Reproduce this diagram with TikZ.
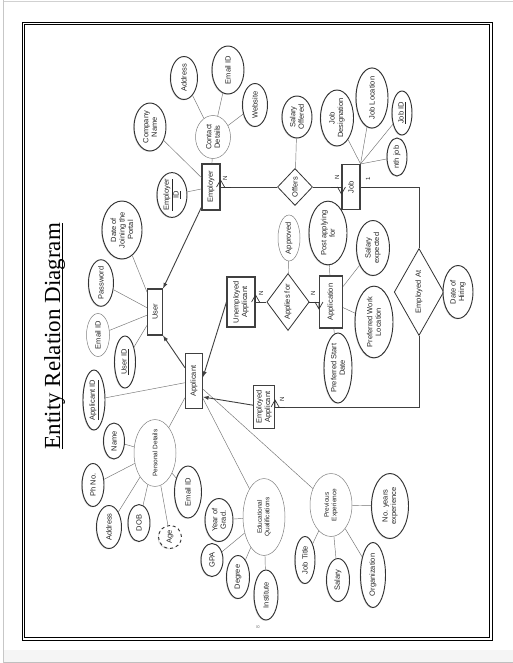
\documentclass[tikz,border=0pt]{standalone}
\usepackage{fontspec}
\setmainfont{Liberation Sans}
\newfontfamily\titlefont{Liberation Serif}
\usetikzlibrary{shapes.geometric,shadows,positioning}

\begin{document}
\begin{tikzpicture}
	[
		x=1pt, y=-1pt,
		every node/.style={rotate=90, align=center, inner sep=0pt, text=black!85, font=\fontsize{7.5}{8.5}\selectfont},
		attr/.style={ellipse, draw=black!80, line width=0.95pt, fill=white, drop shadow={shadow xshift=-0.8pt, shadow yshift=-0.8pt, opacity=0.3}},
		plainattr/.style={ellipse, draw=black!50, line width=0.5pt, fill=white},
		entity/.style={rectangle, draw=black!75, line width=1.1pt, fill=white, drop shadow={shadow xshift=-0.8pt, shadow yshift=-0.8pt, opacity=0.3}},
		relation/.style={diamond, draw=black!80, line width=0.8pt, fill=white},
		link/.style={draw=black!55, line width=0.45pt},
		conn/.style={draw=black!75, line width=0.9pt},
		isa/.style={conn, -latex},
		card/.style={font=\fontsize{6}{6}\selectfont},
		crow/.pic={\draw[black!80, line width=0.7pt] (0,-4) -- (-7,0) -- (0,4) (-7,0) -- (0,0);},
		bar/.pic={\draw[black!80, line width=0.7pt] (0,-4) -- (0,4);},
	]

	% page
	\useasboundingbox (0,0) rectangle (513,663);
	\fill[white] (0,0) rectangle (513,663);
	\fill[black!4] (3,650) rectangle (513,663);
	\draw[black!22] (3.5,0) -- (3.5,663);
	\draw[black!18] (3.5,1) -- (513,1);
	\draw[black!25] (3.5,662) -- (513,662);
	\draw[line width=0.9pt] (22,22) rectangle (492,640);
	\draw[line width=0.9pt] (24.8,24.8) rectangle (489.2,637.2);

	\node[anchor=base, font=\fontsize{23}{23}\selectfont\titlefont, text=black] (title) at (60,336) {Entity Relation Diagram};
	\draw[line width=0.9pt] ([xshift=2pt]title.base west) -- ([xshift=2pt]title.base east);
	\node[rotate=0, font=\fontsize{5}{5}\selectfont, text=black!50] (pageno) at (258,627) {8};

	% employer side
	\node[entity, minimum width=46, minimum height=18] (employer) at (211,187) {Employer};
	\node[attr, minimum width=48, minimum height=32] (company) at (150,127) {Company\\Name};
	\node[attr, minimum width=40, minimum height=30] (employerid) at (172,195) {\underline{Employer}\\\underline{ID}};
	\node[plainattr, minimum width=43, minimum height=35] (contact) at (213,137) {Contact\\Details};
	\node[attr, minimum width=43, minimum height=27] (contactaddr) at (184,78) {Address};
	\node[attr, minimum width=48, minimum height=32] (contactmail) at (228,70) {Email ID};
	\node[attr, minimum width=43, minimum height=25] (website) at (255,105) {Website};

	% job side
	\node[relation, minimum width=37, minimum height=35] (offers) at (295,187) {Offers};
	\node[attr, minimum width=42, minimum height=30] (saloffered) at (297,117) {Salary\\Offered};
	\node[entity, minimum width=45, minimum height=18] (job) at (351,187) {Job};
	\node[attr, minimum width=53, minimum height=33] (jobdesig) at (337,118) {Job\\Designation};
	\node[attr, minimum width=55, minimum height=32] (jobloc) at (372,98) {Job Location};
	\node[attr, minimum width=44, minimum height=20] (jobid) at (402,113) {\underline{Job ID}};
	\node[attr, minimum width=38, minimum height=20] (nthjob) at (397,157) {nth job};

	% user
	\node[entity, minimum width=46, minimum height=15] (user) at (155,312) {User};
	\node[attr, minimum width=58, minimum height=40] (joindate) at (122,230) {Date of\\Joining the\\Portal};
	\node[attr, minimum width=37, minimum height=25] (password) at (101,283) {Password};
	\node[plainattr, minimum width=43, minimum height=23] (usermail) at (98,335) {Email ID};
	\node[attr, minimum width=52, minimum height=21] (userid) at (125,362) {\underline{User ID}};

	% application
	\node[entity, minimum width=50, minimum height=28] (unemp) at (241,302) {Unemployed\\Applicant};
	\node[relation, minimum width=57, minimum height=33] (applies) at (288,302) {Applies for};
	\node[plainattr, minimum width=46, minimum height=22] (approved) at (289,238) {Approved};
	\node[entity, minimum width=52, minimum height=23] (application) at (331,302) {Application};
	\node[attr, minimum width=57, minimum height=38] (postfor) at (328,233) {Post applying\\for};
	\node[attr, minimum width=55, minimum height=33] (salexpected) at (373,248) {Salary\\expected};
	\node[attr, minimum width=65, minimum height=38] (preflocation) at (374,322) {Preferred Work\\Location};
	\node[attr, minimum width=70, minimum height=28] (prefstart) at (338,368) {Preferred Start\\Date};
	\node[relation, minimum width=87, minimum height=38] (employedat) at (419,292) {Employed At};
	\node[attr, minimum width=53, minimum height=30] (hiringdate) at (458,292) {Date of\\Hiring};
	\node[entity, minimum width=43, minimum height=21] (emp) at (264,407) {Employed\\Applicant};

	% applicant
	\node[entity, minimum width=55, minimum height=17] (applicant) at (194,381) {Applicant};
	\node[attr, minimum width=60, minimum height=22] (applicantid) at (94,400) {\underline{Applicant ID}};
	\node[plainattr, minimum width=63, minimum height=42, font=\fontsize{6.5}{7.5}\selectfont] (personal) at (155,453) {Personal Details};
	\node[attr, minimum width=36, minimum height=21] (name) at (114,441) {Name};
	\node[attr, minimum width=43, minimum height=22] (phno) at (93,485) {Ph No.};
	\node[attr, minimum width=52, minimum height=27] (personalmail) at (188,492) {Email ID};
	\node[attr, minimum width=43, minimum height=25] (personaladdr) at (109,527) {Address};
	\node[attr, minimum width=37, minimum height=22] (dob) at (139,523) {DOB};
	\node[attr, dashed, minimum width=23, minimum height=23] (age) at (170,537) {Age};
	\node[plainattr, minimum width=77, minimum height=42, font=\fontsize{6.5}{7.5}\selectfont] (education) at (264,517) {Educational\\Qualifications};
	\node[attr, minimum width=43, minimum height=28] (gradyear) at (219,520) {Year of\\Grad.};
	\node[attr, minimum width=33, minimum height=22] (gpa) at (212,560) {GPA};
	\node[attr, minimum width=43, minimum height=23] (degree) at (238,577) {Degree};
	\node[attr, minimum width=50, minimum height=24] (institute) at (266,595) {Institute};
	\node[plainattr, minimum width=63, minimum height=42, font=\fontsize{6.5}{7.5}\selectfont] (prevexp) at (331,505) {Previous\\Experience};
	\node[attr, minimum width=65, minimum height=37] (noyears) at (390,506) {No. years\\experience};
	\node[attr, minimum width=47, minimum height=20] (jobtitle) at (305,560) {Job Title};
	\node[attr, minimum width=43, minimum height=23] (salary) at (338,580) {Salary};
	\node[attr, minimum width=65, minimum height=25] (organization) at (373,575) {Organization};

	% attribute links
	\draw[link] (employer) -- (company);
	\draw[link] (employer) -- (employerid);
	\draw[link] (employer) -- (contact);
	\draw[link] (contact) -- (contactaddr);
	\draw[link] (contact) -- (contactmail);
	\draw[link] (contact) -- (website);
	\draw[link] (offers) -- (saloffered);
	\draw[link] (job.south east) -- (jobdesig);
	\draw[link] (job.south east) -- (jobloc);
	\draw[link] (job.south east) -- (jobid);
	\draw[link] (job.south east) -- (nthjob);
	\draw[link] (user) -- (joindate);
	\draw[link] (user) -- (password);
	\draw[link] (user) -- (usermail);
	\draw[link] (user) -- (userid);
	\draw[link] (applies) -- (approved);
	\draw[link] (application) -- (postfor);
	\draw[link] (application) -- (salexpected);
	\draw[link] (application) -- (preflocation);
	\draw[link] (application) -- (prefstart);
	\draw[link] (employedat) -- (hiringdate);
	\draw[link] (applicant) -- (applicantid);
	\draw[link] (applicant) -- (personal);
	\draw[link] (applicant) -- (education);
	\draw[link] (applicant) -- (prevexp);
	\foreach \a in {name,phno,personalmail,personaladdr,dob,age}
		\draw[link] (personal) -- (\a);
	\foreach \a in {gradyear,gpa,degree,institute}
		\draw[link] (education) -- (\a);
	\foreach \a in {noyears,jobtitle,salary,organization}
		\draw[link] (prevexp) -- (\a);

	% relationships
	\draw[conn] (employer) -- (offers) -- (job);
	\draw[conn] (unemp) -- (applies) -- (application);
	\draw[conn] (job) -| (employedat);
	\draw[conn] (employedat) |- (emp);

	% generalisation
	\draw[isa] (employer) -- (user.south east);
	\draw[isa] (applicant) -- (user.south west);
	\draw[isa] (unemp.north) -- ([yshift=4pt]applicant.south);
	\draw[isa] (emp) -- ([yshift=-16pt]applicant.south);

	% cardinality
	\pic[xscale=-1] at (employer.south) {crow};
	\pic at ([xshift=6pt]employer.south) {bar};
	\node[card] (c1) at (225,178) {N};
	\pic at (job.north) {crow};
	\pic at ([xshift=-6pt]job.north) {bar};
	\node[card] (c2) at (337,177) {N};
	\pic at ([xshift=5pt]job.south) {bar};
	\node[card] (c3) at (368,179) {1};
	\pic[xscale=-1] at (unemp.south) {crow};
	\node[card] (c4) at (261,293) {N};
	\pic at (application.north) {crow};
	\pic at ([xshift=-6pt]application.north) {bar};
	\node[card] (c5) at (313,293) {N};
	\pic[xscale=-1] at (emp.south) {crow};
	\pic at ([xshift=6pt]emp.south) {bar};
	\node[card] (c6) at (282,399) {N};

\end{tikzpicture}
\end{document}
